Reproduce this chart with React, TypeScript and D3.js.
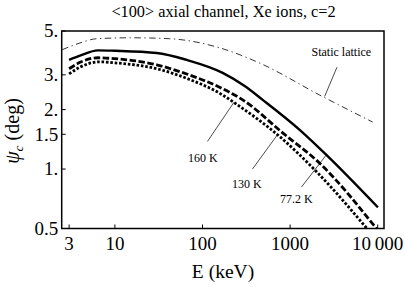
import React from 'react';
import * as d3 from 'd3';

// critical angle curves (E in keV, psi in deg)
const energy772 = [3, 4, 6.4, 10, 30, 66, 170, 300, 487, 1286, 2594, 10050];
const psi772 = [3.57, 3.75, 3.99, 3.97, 3.87, 3.57, 3.07, 2.64, 2.24, 1.58, 1.18, 0.64];

const energy130 = [3, 4, 6.4, 10, 30, 70, 170, 288, 830, 2176, 10000];
const psi130 = [3.22, 3.47, 3.66, 3.62, 3.37, 3.0, 2.55, 2.24, 1.52, 1.07, 0.49];

const energy160 = [3, 4, 6.7, 10, 30, 70, 170, 233, 761, 2000, 10000];
const psi160 = [3.03, 3.28, 3.49, 3.45, 3.22, 2.85, 2.37, 2.16, 1.46, 0.97, 0.43];

const energyStatic = [2.5, 4, 6.2, 15, 42, 157, 450, 2174, 8750];
const psiStatic = [4.02, 4.35, 4.57, 4.62, 4.57, 4.11, 3.44, 2.37, 1.73];

const xTicks = [3, 10, 100, 1000, 10000];
const xTickLabels = ['3', '10', '100', '1000', '10\u2009000'];
const yTicks = [5, 3, 2, 1.5, 1, 0.5];
const yTickLabels = ['5.', '3.', '2.', '1.5', '1.', '0.5'];

// annotations: label text, label anchor, pointer from -> to (data coords)
const notes = [
  { text: 'Static lattice', at: [3846, 3.72], from: [3428, 3.28], to: [2478, 2.33] },
  { text: '160 K', at: [101, 1.09], from: [114, 1.38], to: [229, 2.18] },
  { text: '130 K', at: [320, 0.8], from: [372, 1.0], to: [716, 1.49] },
  { text: '77.2 K', at: [1180, 0.67], from: [1346, 0.81], to: [2594, 1.18] },
];

const W = 405;
const H = 287;
const font = "'Liberation Serif', Tinos, 'Times New Roman', Times, serif";

export default function App() {
  const x = d3.scaleLog().domain([2.47, 11800]).range([61.7, 384]);
  const y = d3.scaleLog().domain([0.5, 5]).range([228.5, 31]);
  const [x0, x1] = x.range();
  const [y0, y1] = y.range();

  const line = d3
    .line<[number, number]>()
    .x(d => x(d[0]))
    .y(d => y(d[1]))
    .curve(d3.curveMonotoneX);

  const zip = (es: number[], ps: number[]) => es.map((e, i) => [e, ps[i]] as [number, number]);

  const series = [
    { data: zip(energyStatic, psiStatic), width: 0.8, dash: '6.5,3.5,1.3,3.5' },
    { data: zip(energy772, psi772), width: 2.4, dash: null },
    { data: zip(energy130, psi130), width: 2.8, dash: '6.5,2.5' },
    { data: zip(energy160, psi160), width: 2.8, dash: '2.6,1.8' },
  ];

  const txt = { fontFamily: font };

  return (
    <svg
      width={W}
      height={H}
      style={{ position: 'absolute', left: 0, top: 0, background: '#fff', fontFamily: font }}
    >
      <defs>
        <clipPath id="plot">
          <rect x={x0} y={y1} width={x1 - x0} height={y0 - y1} />
        </clipPath>
      </defs>

      <text x={223.5} y={17} textAnchor="middle" fontSize={16.3} style={txt}>
        {'<100> axial channel, Xe ions, c=2'}
      </text>

      <g clipPath="url(#plot)">
        {series.map((s, i) => (
          <path
            key={i}
            d={line(s.data) || ''}
            fill="none"
            stroke="#000"
            strokeWidth={s.width}
            strokeDasharray={s.dash || undefined}
          />
        ))}
      </g>

      {notes.map(n => (
        <g key={n.text}>
          <line
            x1={x(n.from[0])}
            y1={y(n.from[1])}
            x2={x(n.to[0])}
            y2={y(n.to[1])}
            stroke="#000"
            strokeWidth={0.7}
          />
          <text x={x(n.at[0])} y={y(n.at[1])} textAnchor="middle" fontSize={12} style={txt}>
            {n.text}
          </text>
        </g>
      ))}

      {/* ticks point inward */}
      {xTicks.map((t, i) => (
        <g key={t}>
          <line x1={x(t)} x2={x(t)} y1={y0} y2={y0 - 4} stroke="#000" strokeWidth={1} />
          <text x={x(t)} y={y0 + 21.5} textAnchor="middle" fontSize={19} style={txt}>
            {xTickLabels[i]}
          </text>
        </g>
      ))}
      {yTicks.map((t, i) => (
        <g key={t}>
          <line x1={x0} x2={x0 + 4} y1={y(t)} y2={y(t)} stroke="#000" strokeWidth={1} />
          <text x={x0 - 3.5} y={y(t)} dy="0.33em" textAnchor="end" fontSize={19} style={txt}>
            {yTickLabels[i]}
          </text>
        </g>
      ))}

      <rect
        x={x0}
        y={y1}
        width={x1 - x0}
        height={y0 - y1}
        fill="none"
        stroke="#000"
        strokeWidth={1.5}
      />

      <text x={223} y={278} textAnchor="middle" fontSize={19.5} style={txt}>
        E (keV)
      </text>
      <text transform="translate(19,131) rotate(-90)" textAnchor="middle" fontSize={20} style={txt}>
        <tspan fontStyle="italic">ψ</tspan>
        <tspan fontStyle="italic" fontSize={13.5} dy={4}>c</tspan>
        <tspan dy={-4}> (deg)</tspan>
      </text>
    </svg>
  );
}
